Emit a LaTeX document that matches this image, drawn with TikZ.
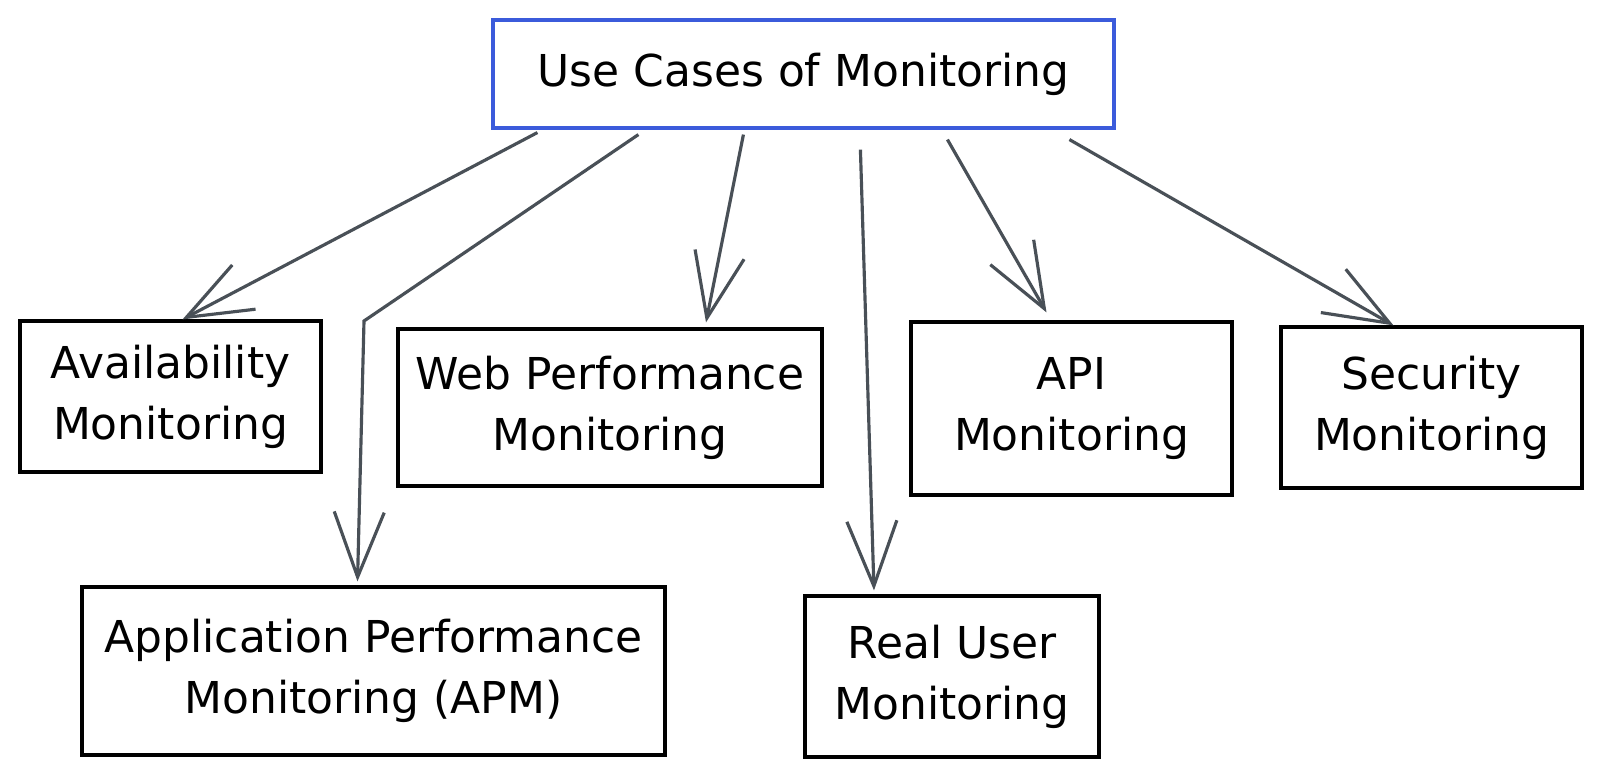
\documentclass[tikz,border=0pt]{standalone}
\usepackage{fontspec}
\setmainfont{DejaVu Sans}
\usetikzlibrary{arrows.meta}

\definecolor{titleblue}{HTML}{3B5BDB}
\definecolor{arrowgray}{HTML}{495057}

\tikzset{
    box/.style={draw, line width=0.9pt, align=center, inner sep=0pt,
        font=\fontsize{12.5}{17.4}\selectfont},
    arr/.style={draw=arrowgray, line width=0.9pt,
        -{Straight Barb[length=6.5mm, width=5mm, line width=0.9pt]}}
}

\begin{document}
\begin{tikzpicture}[x=0.1mm, y=-0.1mm]
    \useasboundingbox (0,0) rectangle (1600,780);

    % Draw nodes
    \node[box, draw=titleblue, minimum width=62.1mm, minimum height=10.8mm] (title) at (803.5,74) {Use Cases of Monitoring};
    \node[box, minimum width=30.1mm, minimum height=15.1mm] (avail) at (170.5,396.5) {Availability\\Monitoring};
    \node[box, minimum width=42.4mm, minimum height=15.7mm] (web) at (610,407.5) {Web Performance\\Monitoring};
    \node[box, minimum width=32.1mm, minimum height=17.3mm] (api) at (1071.5,408.5) {API\\Monitoring};
    \node[box, minimum width=30.1mm, minimum height=16.1mm] (sec) at (1431.5,407.5) {Security\\Monitoring};
    \node[box, minimum width=58.3mm, minimum height=16.8mm] (apm) at (373.5,671) {Application Performance\\Monitoring (APM)};
    \node[box, minimum width=29.4mm, minimum height=16.1mm] (rum) at (952,676.5) {Real User\\Monitoring};

    % Draw connections
    \coordinate (apmbend) at (364,321);
    \draw[arr] ([shift={(46,3)}]title.south west) -- ([shift={(12,0)}]avail.north);
    \draw[arr] ([shift={(147,5)}]title.south west) -- (apmbend) -- ([shift={(-16,-4)}]apm.north);
    \draw[arr] ([shift={(252,5)}]title.south west) -- ([shift={(96,-5)}]web.north);
    \draw[arr] ([shift={(369,20)}]title.south west) -- ([shift={(-78,-4)}]rum.north);
    \draw[arr] ([shift={(456,10)}]title.south west) -- ([shift={(-25,-8)}]api.north);
    \draw[arr] ([shift={(578,10)}]title.south west) -- ([shift={(-38,0)}]sec.north);
\end{tikzpicture}
\end{document}
